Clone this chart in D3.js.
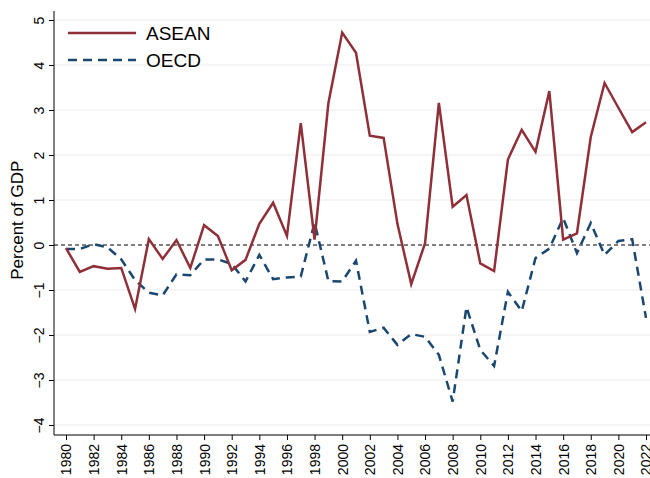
<!DOCTYPE html>
<html lang="en">
<head>
  <meta charset="UTF-8" />
  <title>ASEAN vs OECD</title>
  <style>
    body { margin: 0; background: #fff; }
    text { font-family: "Liberation Sans", Arial, sans-serif; fill: #000; }
  </style>
</head>
<body>
  <div id="chart"></div>
  <script src="https://d3js.org/d3.v7.min.js"></script>
  <script>
    // Years and series
    const years = d3.range(1980, 2023);
    const asean = [-0.07, -0.6, -0.47, -0.53, -0.51, -1.42, 0.13, -0.31, 0.11, -0.51,
      0.44, 0.2, -0.56, -0.33, 0.47, 0.94, 0.2, 2.71, 0.12, 3.15,
      4.72, 4.27, 2.43, 2.38, 0.47, -0.87, 0.04, 3.16, 0.85, 1.11,
      -0.41, -0.58, 1.9, 2.56, 2.07, 3.42, 0.12, 0.26, 2.4, 3.6,
      3.05, 2.51, 2.73];
    const oecd = [-0.09, -0.09, 0.02, -0.05, -0.32, -0.78, -1.06, -1.12, -0.65, -0.67,
      -0.32, -0.32, -0.42, -0.81, -0.22, -0.76, -0.72, -0.7, 0.5, -0.8,
      -0.81, -0.35, -1.93, -1.84, -2.22, -1.98, -2.04, -2.44, -3.48, -1.38,
      -2.33, -2.69, -1.04, -1.47, -0.29, -0.08, 0.6, -0.18, 0.49, -0.22,
      0.09, 0.13, -1.62];
    const yTicks = [-4, -3, -2, -1, 0, 1, 2, 3, 4, 5];
    const xTicks = d3.range(1980, 2023, 2);

    const width = 650, height = 478;
    const svg = d3.select("#chart").append("svg")
      .attr("width", width).attr("height", height);

    const x = d3.scaleLinear().domain([1980, 2022]).range([66, 646]);
    const y = d3.scaleLinear().domain([-4, 5]).range([425, 20]);
    const plotLeft = 54, plotRight = 650, plotBottom = 435, plotTop = 11;

    // Grid lines
    svg.append("g").selectAll("line")
      .data(yTicks.filter(d => d !== 0))
      .join("line")
      .attr("x1", plotLeft).attr("x2", plotRight)
      .attr("y1", d => y(d)).attr("y2", d => y(d))
      .attr("stroke", "#ebebeb").attr("stroke-width", 1);

    // Zero reference line
    svg.append("line")
      .attr("x1", plotLeft).attr("x2", plotRight)
      .attr("y1", y(0)).attr("y2", y(0))
      .attr("stroke", "#000").attr("stroke-width", 1)
      .attr("stroke-dasharray", "4,3");

    // Y axis
    const yAxis = svg.append("g").attr("transform", `translate(${plotLeft},0)`)
      .call(d3.axisLeft(y).tickValues(yTicks).tickSize(5).tickSizeOuter(0));
    yAxis.select(".domain").attr("d", `M0,${plotTop}V${plotBottom}`);
    yAxis.selectAll("text")
      .attr("font-size", 14)
      .attr("x", 0).attr("y", 0).attr("dy", 0)
      .attr("transform", "translate(-10,0) rotate(-90)")
      .attr("text-anchor", "middle");

    // X axis
    const xAxis = svg.append("g").attr("transform", `translate(0,${plotBottom})`)
      .call(d3.axisBottom(x).tickValues(xTicks).tickFormat(d3.format("d")).tickSize(5).tickSizeOuter(0));
    xAxis.select(".domain").attr("d", `M${plotLeft},0H${plotRight}`);
    xAxis.selectAll("text")
      .attr("font-size", 14)
      .attr("transform", "rotate(-90)")
      .attr("x", -9).attr("y", 0).attr("dy", "0.35em")
      .attr("text-anchor", "end");

    svg.selectAll(".domain, .tick line").attr("stroke", "#000");

    // Y axis title
    svg.append("text")
      .attr("transform", `translate(23,${y(0.55)}) rotate(-90)`)
      .attr("text-anchor", "middle")
      .attr("font-size", 17)
      .text("Percent of GDP");

    // Lines
    const line = d3.line().x((d, i) => x(years[i])).y(d => y(d));
    svg.append("path").datum(oecd)
      .attr("d", line).attr("fill", "none")
      .attr("stroke", "#1a476f").attr("stroke-width", 2.5)
      .attr("stroke-dasharray", "9,6");
    svg.append("path").datum(asean)
      .attr("d", line).attr("fill", "none")
      .attr("stroke", "#8f3039").attr("stroke-width", 2.5);

    // Legend
    const legend = [
      { name: "ASEAN", color: "#8f3039", dash: null, y: 33 },
      { name: "OECD", color: "#1a476f", dash: "9,6", y: 60 }
    ];
    const lg = svg.append("g").selectAll("g").data(legend).join("g");
    lg.append("line")
      .attr("x1", 68).attr("x2", 136)
      .attr("y1", d => d.y).attr("y2", d => d.y)
      .attr("stroke", d => d.color).attr("stroke-width", 2.5)
      .attr("stroke-dasharray", d => d.dash);
    lg.append("text")
      .attr("x", 146).attr("y", d => d.y)
      .attr("dy", "0.36em")
      .attr("font-size", 19)
      .text(d => d.name);
  </script>
</body>
</html>
